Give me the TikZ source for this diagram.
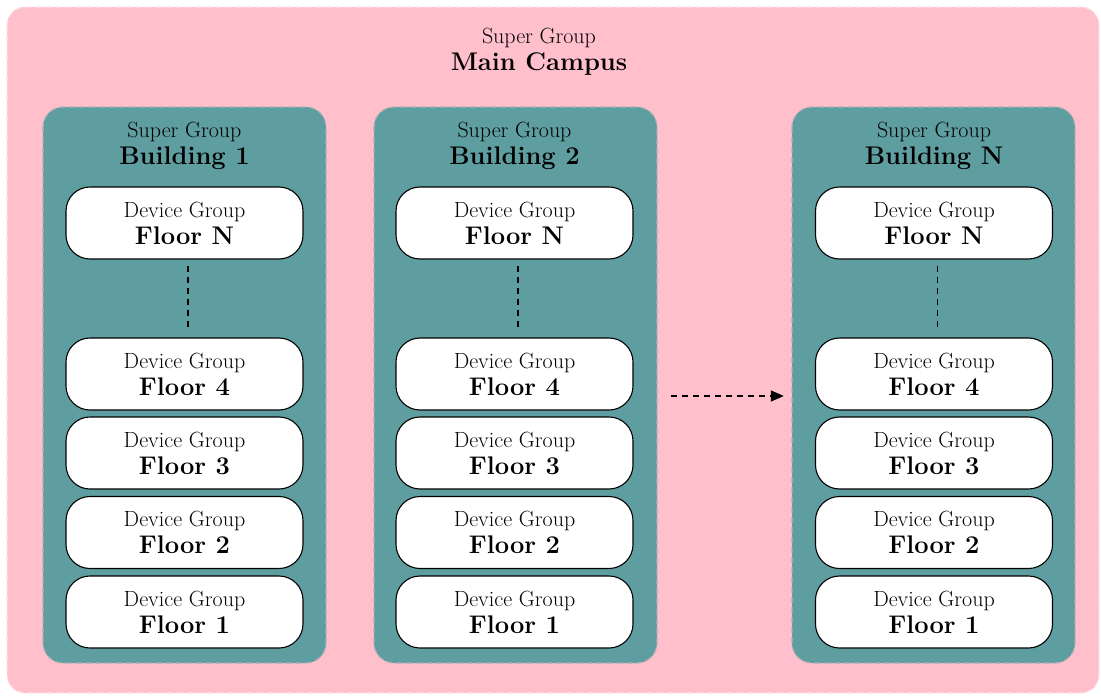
\documentclass[tikz,border=0pt]{standalone}
\usetikzlibrary{arrows.meta,calc}
\definecolor{campuspink}{HTML}{FFC0CB}
\definecolor{buildteal}{HTML}{5F9EA0}
\newcommand{\smalltxt}{\fontsize{22}{27}\selectfont}
\newcommand{\bigtxt}{\fontsize{25.5}{27}\selectfont\bfseries}
\begin{document}
\begin{tikzpicture}[x=1pt,y=-1pt,
  campus/.style={draw=white!55!campuspink,fill=campuspink,dash pattern=on 6pt off 4pt,line width=1.2pt,rounded corners=18pt},
  building/.style={draw=campuspink!50!buildteal,fill=buildteal,dash pattern=on 6pt off 4pt,line width=1.2pt,rounded corners=20pt},
  floorbox/.style={draw=black,fill=white,line width=1.1pt,rounded corners=24pt,minimum width=237pt,minimum height=72pt,inner sep=0pt,align=center,font=\smalltxt},
  title/.style={align=center,inner sep=0pt,font=\smalltxt},
  link/.style={draw=black,line width=1.4pt,dash pattern=on 6pt off 5pt}
]
\useasboundingbox (0,0) rectangle (1101,696);
\path[campus] (7,7) rectangle (1099,693);
\node[title] (mt) at (539,52) {Super Group\\\bigtxt Main Campus};

\foreach \bx in {43,374,792}{
  \path[building] (\bx,107) rectangle ++(283,556);
}
\node[inner sep=0pt,minimum width=283pt,minimum height=556pt] (b1) at (184.5,385) {};
\node[inner sep=0pt,minimum width=283pt,minimum height=556pt] (b2) at (515.5,385) {};
\node[inner sep=0pt,minimum width=283pt,minimum height=556pt] (bn) at (933.5,385) {};

\foreach \nm/\cx/\lab in {b1/185.5/1, b2/515.5/2, bn/935/N}{
  \node[title] (\nm t) at (\cx-1,146) {Super Group\\\bigtxt Building \lab};
  \node[floorbox] (\nm fN) at (\cx-1,223) {Device Group\\\bigtxt Floor N};
  \node[floorbox] (\nm f4) at (\cx-1,374) {Device Group\\\bigtxt Floor 4};
  \node[floorbox] (\nm f3) at (\cx-1,453) {Device Group\\\bigtxt Floor 3};
  \node[floorbox] (\nm f2) at (\cx-1,532.5) {Device Group\\\bigtxt Floor 2};
  \node[floorbox] (\nm f1) at (\cx-1,612) {Device Group\\\bigtxt Floor 1};
  \draw[link,shorten <=6pt,shorten >=8pt] ([xshift=3.5pt]\nm fN.south) -- ([xshift=3.5pt]\nm f4.north);
}
\draw[link,-{Triangle[length=13pt,width=11pt]},shorten <=14pt,shorten >=8pt] ([yshift=-11pt]b2.east) -- ([yshift=-11pt]bn.west);
\end{tikzpicture}
\end{document}
